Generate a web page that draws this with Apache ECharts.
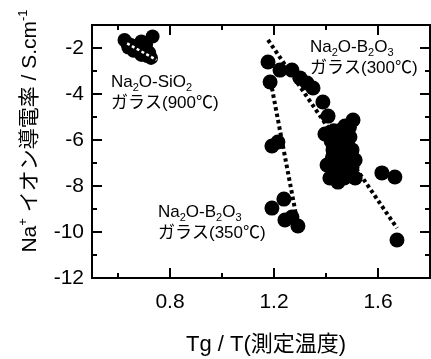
<!DOCTYPE html>
<html><head><meta charset="utf-8">
<script src="https://cdn.jsdelivr.net/npm/echarts@6/dist/echarts.min.js"></script>
<style>html,body{margin:0;padding:0;background:#fff}#c{width:431px;height:359px}</style>
</head><body><div id="c"></div>
<script>
// ---- data ----
const xMajorTicks = [0.8, 1.2, 1.6];
const xMinorTicks = [0.6, 1.0, 1.4];
const siO2_900 = [[0.625,-1.65],[0.635,-1.78],[0.650,-1.87],[0.665,-2.00],[0.681,-2.09],[0.696,-2.22],[0.712,-2.35],[0.727,-2.43],[0.733,-1.50],[0.708,-1.85],[0.690,-1.72],[0.640,-1.98],[0.660,-2.12],[0.690,-2.30],[0.720,-2.20]];
const b2O3_300 = [[1.177,-2.61],[1.223,-2.96],[1.269,-2.96],[1.300,-3.30],[1.327,-3.52],[1.350,-3.74],[1.388,-4.35],[1.408,-4.96],[1.504,-5.13],[1.473,-5.39],[1.396,-5.74],[1.446,-6.00],[1.492,-5.87],[1.427,-6.43],[1.500,-6.43],[1.442,-6.87],[1.512,-6.87],[1.404,-7.09],[1.415,-7.65],[1.446,-7.83],[1.512,-7.65],[1.615,-7.43],[1.665,-7.61],[1.673,-10.35],[1.458,-5.57],[1.473,-6.22],[1.462,-7.30],[1.430,-5.60],[1.420,-6.05],[1.455,-6.45],[1.485,-6.60],[1.480,-7.05],[1.440,-7.25],[1.500,-7.20],[1.470,-7.65],[1.425,-6.75],[1.465,-6.85],[1.490,-5.45]];
const b2O3_350 = [[1.185,-3.48],[1.192,-6.26],[1.215,-6.09],[1.192,-8.96],[1.238,-8.57],[1.242,-9.48],[1.269,-9.35],[1.292,-9.74]];
const trend300 = [[1.177,-1.65],[1.673,-9.83]];
const trend350 = [[1.192,-3.74],[1.288,-9.45]];
const trend900 = [[0.635,-1.80],[0.748,-2.52]];

const FONT = "'Liberation Sans','Noto Sans CJK JP',sans-serif";
const chart = echarts.init(document.getElementById('c'), null, {renderer:'canvas'});
const frame = {show:true, onZero:false, lineStyle:{color:'#000', width:2}};
function xAx(pos, ticks, len, labels){
  return {type:'value', position:pos, min:0.5, max:1.8, splitLine:{show:false},
    axisLine:frame,
    axisTick:{show:true, inside:true, length:len, customValues:ticks, lineStyle:{color:'#000', width:2}},
    axisLabel:labels ? {show:true, customValues:ticks, margin:14, color:'#000', fontSize:21, fontFamily:FONT,
      formatter:v=>v.toFixed(1)} : {show:false}};
}
function yAx(pos, labels){
  return {type:'value', position:pos, min:-12, max:-1, interval:2, splitLine:{show:false},
    axisLine:frame,
    axisTick:{show:true, inside:true, length:10, lineStyle:{color:'#000', width:2}},
    minorTick:{show:true, splitNumber:2, length:5, lineStyle:{color:'#000', width:2}},
    axisLabel:labels ? {show:true, margin:8, color:'#000', fontSize:21, fontFamily:FONT, showMaxLabel:false} : {show:false}};
}
const sub = {fontSize:11, fontFamily:FONT, verticalAlign:'bottom', lineHeight:11, fill:'#000'};
const nrm = {fontSize:17, fontFamily:FONT, lineHeight:21, fill:'#000'};
function note(x, y, text){
  return {type:'text', x:x, y:y, z:100, style:{text:text, align:'left', verticalAlign:'top', font:'17px '+FONT, fill:'#000', rich:{n:nrm, s:sub}}};
}
chart.setOption({
  animation:false,
  backgroundColor:'#fff',
  grid:{left:92, right:1, top:25, bottom:81, containLabel:false},
  xAxis:[xAx('bottom', xMajorTicks, 10, true), xAx('bottom', xMinorTicks, 5, false), xAx('top', xMajorTicks, 10, false), xAx('top', xMinorTicks, 5, false)],
  yAxis:[yAx('left', true), yAx('right', false)],
  series:[
    {type:'line', data:trend300, showSymbol:false, symbol:'none', lineStyle:{color:'#000', width:4, type:[3.5,3], cap:'butt'}, z:2},
    {type:'line', data:trend350, showSymbol:false, symbol:'none', lineStyle:{color:'#000', width:4, type:[3.5,3], cap:'butt'}, z:2},
    {type:'scatter', data:b2O3_300, symbol:'circle', symbolSize:15, itemStyle:{color:'#000', opacity:1}, z:3},
    {type:'scatter', data:b2O3_350, symbol:'circle', symbolSize:15, itemStyle:{color:'#000', opacity:1}, z:3},
    {type:'scatter', data:siO2_900, symbol:'circle', symbolSize:14, itemStyle:{color:'#000', opacity:1}, z:3},
    {type:'line', data:trend900, showSymbol:false, symbol:'none', lineStyle:{color:'#fff', width:2.5, type:[3,2.5], cap:'butt'}, z:4}
  ],
  graphic:[
    note(111, 72, '{n|Na}{s|2}{n|O-SiO}{s|2}\n{n|ガラス(900℃)}'),
    note(310, 37, '{n|Na}{s|2}{n|O-B}{s|2}{n|O}{s|3}\n{n|ガラス(300℃)}'),
    note(158, 202, '{n|Na}{s|2}{n|O-B}{s|2}{n|O}{s|3}\n{n|ガラス(350℃)}'),
    {type:'text', x:266, y:345, z:100, style:{text:'Tg / T(測定温度)', align:'center', verticalAlign:'middle', font:'22px '+FONT, fill:'#000'}},
    {type:'text', x:30, y:131, rotation:Math.PI/2, z:100, style:{text:'{m|Na}{p|+}{m| イオン導電率 / S.cm}{p|-1}', align:'center', verticalAlign:'middle', font:'21px '+FONT, fill:'#000',
      rich:{m:{fontSize:21, fontFamily:FONT, lineHeight:26, fill:'#000'}, p:{fontSize:13, fontFamily:FONT, verticalAlign:'top', lineHeight:13, fill:'#000'}}}}
  ]
});
</script></body></html>
